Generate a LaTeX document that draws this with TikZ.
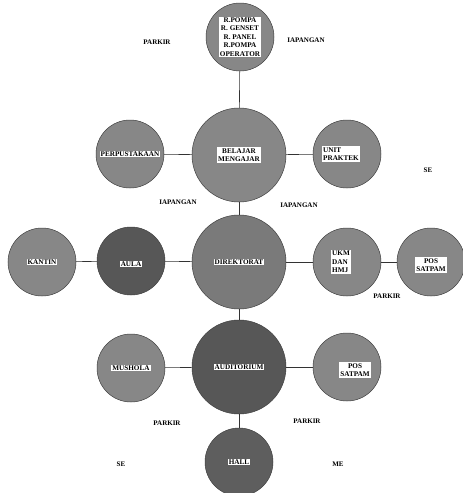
\documentclass[tikz,border=0pt]{standalone}
\usepackage{fontspec}
\setmainfont{Liberation Serif}
\begin{document}
\begin{tikzpicture}[x=1pt,y=-1pt,
  room/.style={circle,draw=black!75,line width=0.5pt,fill=#1,minimum size=68pt,inner sep=0pt},
  room/.default={gray!95!white},
  big/.style={minimum size=94pt},
  lbl/.style={fill=white,inner sep=1pt,font=\fontsize{7.2}{8.5}\selectfont\bfseries,align=center},
  free/.style={font=\fontsize{7}{8}\selectfont\bfseries},
  link/.style={draw=black!80,line width=0.6pt}]
\useasboundingbox (0,0) rectangle (463,493);
\colorlet{light}{black!47}
\colorlet{dark}{black!66}
\colorlet{mid}{black!52}
% top
\node[room=light] (pompa) at (240,37) {};
\node[lbl] at (pompa) {R.POMPA\\R. GENSET\\R. PANEL\\R.POMPA\\OPERATOR};
% row 2
\node[room=light,big] (belajar) at (239,155) {};
\node[lbl] at (belajar) {BELAJAR\\MENGAJAR};
\node[room=light] (perpus) at (130,154) {};
\node[lbl] at (perpus) {PERPUSTAKAAN};
\node[room=light] (unit) at (347,154) {};
\node[lbl,align=left] at ([xshift=-6pt]unit.center) {UNIT\\PRAKTEK};
% row 3
\node[room=light] (kantin) at (42,262) {};
\node[lbl] at (kantin) {KANTIN};
\node[room=dark] (aula) at (131,261) {};
\node[lbl] at ([yshift=-3pt]aula.center) {AULA};
\node[room=mid,big] (direk) at (239,262) {};
\node[lbl] at (direk) {DIREKTORAT};
\node[room=light] (ukm) at (347,262) {};
\node[lbl,align=left] at ([xshift=-6pt]ukm.center) {UKM\\DAN\\HMJ};
\node[room=light] (pos1) at (431,262) {};
\node[lbl] at ([yshift=-3pt]pos1.center) {POS\\SATPAM};
% row 4
\node[room=light] (mushola) at (131,368) {};
\node[lbl] at (mushola) {MUSHOLA};
\node[room=dark,big] (audit) at (239,367) {};
\node[lbl] at (audit) {AUDITORIUM};
\node[room=light] (pos2) at (347,367) {};
\node[lbl] at ([yshift=-3pt,xshift=8pt]pos2.center) {POS\\SATPAM};
% bottom
\node[room=dark!85!light] (hall) at (239,462) {};
\node[lbl] at (hall) {HALL};
% connectors
\draw[link] (pompa) -- (belajar);
\draw[link] (belajar) -- (direk);
\draw[link] (direk) -- (audit);
\draw[link] (audit) -- (hall);
\draw[link] (perpus) -- (belajar);
\draw[link] (belajar) -- (unit);
\draw[link] (kantin) -- (aula);
\draw[link] (aula) -- (direk);
\draw[link] (direk) -- (ukm);
\draw[link] (ukm) -- (pos1);
\draw[link] (mushola) -- (audit);
\draw[link] (audit) -- (pos2);
% free labels
\node[free] (t1) at (157,42) {PARKIR};
\node[free] (t2) at (306,40) {IAPANGAN};
\node[free] (t3) at (428,170) {SE};
\node[free] (t4) at (178,202) {IAPANGAN};
\node[free] (t5) at (299,205) {IAPANGAN};
\node[free] (t6) at (387,296) {PARKIR};
\node[free] (t7) at (167,423) {PARKIR};
\node[free] (t8) at (307,421) {PARKIR};
\node[free] (t9) at (121,464) {SE};
\node[free] (t10) at (338,464) {ME};
\end{tikzpicture}
\end{document}
